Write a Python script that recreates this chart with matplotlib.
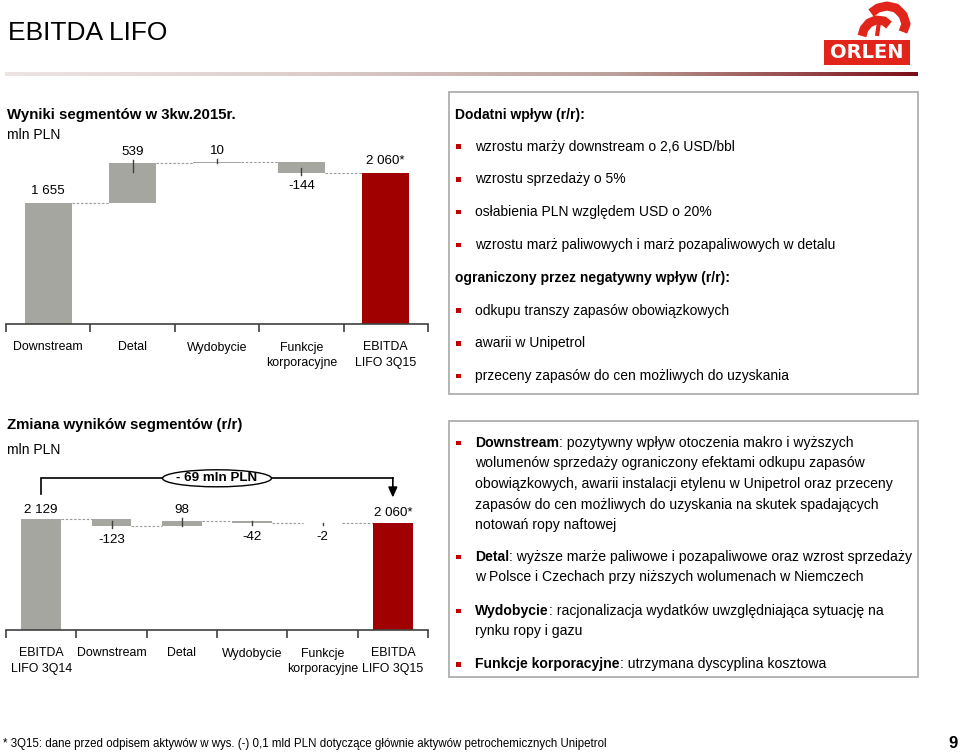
import matplotlib
matplotlib.use("Agg")
import matplotlib.pyplot as plt
from matplotlib.patches import Rectangle, Ellipse
from matplotlib.colors import LinearSegmentedColormap
import numpy as np

# ---------------- data ----------------
top_categories = ['Downstream', 'Detal', 'Wydobycie', 'Funkcje\nkorporacyjne', 'EBITDA\nLIFO 3Q15']
top_values = [1655, 539, 10, -144, 2060]
top_labels = ['1 655', '539', '10', '-144', '2 060*']

bottom_categories = ['EBITDA\nLIFO 3Q14', 'Downstream', 'Detal', 'Wydobycie',
                     'Funkcje\nkorporacyjne', 'EBITDA\nLIFO 3Q15']
bottom_values = [2129, -123, 98, -42, -2, 2060]
bottom_labels = ['2 129', '-123', '98', '-42', '-2', '2 060*']
change_label = '- 69 mln PLN'

title = 'EBITDA LIFO'
top_heading = 'Wyniki segmentów w 3kw.2015r.'
bottom_heading = 'Zmiana wyników segmentów (r/r)'
unit = 'mln PLN'

box1_lines = [
    ('head', 'Dodatni wpływ (r/r):'),
    ('item', 'wzrostu marży downstream o 2,6 USD/bbl'),
    ('item', 'wzrostu sprzedaży o 5%'),
    ('item', 'osłabienia PLN względem USD o 20%'),
    ('item', 'wzrostu marż paliwowych i marż pozapaliwowych w detalu'),
    ('head', 'ograniczony przez negatywny wpływ (r/r):'),
    ('item', 'odkupu transzy zapasów obowiązkowych'),
    ('item', 'awarii w Unipetrol'),
    ('item', 'przeceny zapasów do cen możliwych do uzyskania'),
]

box2_items = [
    ('Downstream', ['pozytywny wpływ otoczenia makro i wyższych',
                    'wolumenów sprzedaży ograniczony efektami odkupu zapasów',
                    'obowiązkowych, awarii instalacji etylenu w Unipetrol oraz przeceny',
                    'zapasów do cen możliwych do uzyskania na skutek spadających',
                    'notowań ropy naftowej']),
    ('Detal', ['wyższe marże paliwowe i pozapaliwowe oraz wzrost sprzedaży',
               'w Polsce i Czechach przy niższych wolumenach w Niemczech']),
    ('Wydobycie', ['racjonalizacja wydatków uwzględniająca sytuację na',
                   'rynku ropy i gazu']),
    ('Funkcje korporacyjne', ['utrzymana dyscyplina kosztowa']),
]

footnote = '* 3Q15: dane przed odpisem aktywów w wys. (-) 0,1 mld PLN dotyczące głównie aktywów petrochemicznych Unipetrol'
page_no = '9'

FONT = 'Liberation Sans'

W, H = 960, 752
fig = plt.figure(figsize=(W / 100, H / 100), dpi=100)
fig.patch.set_facecolor('white')


def fx(x):
    return x / W


def fy(y):
    return 1 - y / H


GRAY = '#a6a6a1'
RED = '#a00000'
BUL = '#c00000'

# ---------------- title + gradient line ----------------
fig.text(fx(8), fy(33), title, fontsize=19, family=FONT, va='center', ha='left')
gax = fig.add_axes([fx(5), fy(76), (918 - 5) / W, 4 / H])
cmap = LinearSegmentedColormap.from_list('g', ['#efe4e4', '#dccdca', '#bca29c', '#7c1018'], N=256)
gax.imshow(np.linspace(0, 1, 400)[None, :], aspect='auto', cmap=cmap)
gax.axis('off')

# ---------------- logo ----------------
fig.patches.append(Rectangle((fx(824), fy(65)), 86 / W, 25 / H, transform=fig.transFigure,
                             facecolor='#e1251b', edgecolor='none'))
fig.text(fx(867), fy(53), 'ORLEN', fontsize=14, family='DejaVu Sans', weight='bold',
         color='white', ha='center', va='center')
lax = fig.add_axes([0, 0, 1, 1], facecolor='none')
lax.set_xlim(0, W)
lax.set_ylim(H, 0)
lax.axis('off')
lax.plot([871, 878, 887, 896, 903, 906, 903], [13, 8, 6, 8, 15, 24, 32], color='#e1251b',
         lw=6.5, solid_capstyle='butt')
lax.plot([862, 864, 869, 876, 884, 889], [36, 29, 23, 20, 21, 25], color='#e1251b',
         lw=6.5, solid_capstyle='butt')
lax.plot([879, 877], [22, 36], color='#e1251b', lw=3, solid_capstyle='butt')

# ---------------- headings ----------------
fig.text(fx(7), fy(115), top_heading, fontsize=10.8, family=FONT, weight='bold', va='center')
fig.text(fx(7), fy(135), unit, fontsize=10, family=FONT, va='center')
fig.text(fx(7), fy(425), bottom_heading, fontsize=10.8, family=FONT, weight='bold', va='center')
fig.text(fx(7), fy(450), unit, fontsize=10, family=FONT, va='center')


# ---------------- waterfall helper ----------------
def waterfall(ax, cats, vals, labels, k, lab_off, cat_off):
    n = len(vals)
    bw = 0.56
    running = 0
    levels = []
    for i, v in enumerate(vals):
        if i == 0 or i == n - 1:
            bottom, height = 0, v
            running = v
            col = RED if i == n - 1 else GRAY
        else:
            bottom = running if v >= 0 else running + v
            height = abs(v)
            running += v
            col = GRAY
        levels.append(running)
        ax.bar(i, height, bottom=bottom, width=bw, color=col, edgecolor='none', zorder=2)
        top = bottom + height
        px = 1.0 / k  # data units per pixel
        if i == 0 or i == n - 1:
            ax.annotate(labels[i], xy=(i, top), xytext=(0, lab_off['tot']), textcoords='offset pixels',
                        ha='center', va='center', fontsize=9.6, family=FONT)
        elif v >= 0:
            ax.plot([i, i], [top + 3 * px, max(bottom, top - 9 * px)], color='#404040', lw=1, zorder=3)
            ax.annotate(labels[i], xy=(i, top), xytext=(0, lab_off['pos']), textcoords='offset pixels',
                        ha='center', va='center', fontsize=9.6, family=FONT)
        else:
            ax.plot([i, i], [min(top, bottom + 5 * px), bottom - 2 * px], color='#404040', lw=1, zorder=3)
            ax.annotate(labels[i], xy=(i, bottom), xytext=(0, -lab_off['neg']), textcoords='offset pixels',
                        ha='center', va='center', fontsize=9.6, family=FONT)
        ax.annotate(cats[i], xy=(i, 0), xytext=(0, -cat_off), textcoords='offset pixels',
                    ha='center', va='top', fontsize=8.9, family=FONT, linespacing=1.35)
    for i in range(n - 1):
        ax.plot([i + bw / 2, i + 1 - bw / 2], [levels[i], levels[i]], color='#9a9a9a', lw=0.8,
                dashes=(2.2, 1.6), zorder=1)
    ax.set_xlim(-0.5, n - 0.5)
    ax.set_xticks(np.arange(-0.5, n, 1.0))
    ax.set_xticklabels([])
    ax.set_yticks([])
    for s in ['top', 'right', 'left']:
        ax.spines[s].set_visible(False)
    ax.spines['bottom'].set_color('#404040')
    ax.spines['bottom'].set_linewidth(1.2)
    ax.tick_params(axis='x', direction='out', length=6, width=1.2, color='#404040')
    ax.set_facecolor('none')


# top chart
k1 = 0.0733
ax1 = fig.add_axes([fx(6), fy(324), (428 - 6) / W, (324 - 140) / H])
ax1.set_ylim(0, (324 - 140) / k1)
waterfall(ax1, top_categories, top_values, top_labels, k1, {'tot': 12, 'pos': 11, 'neg': 13}, 17.5)

# bottom chart
k2 = 0.052
ax2 = fig.add_axes([fx(6), fy(630), (428 - 6) / W, (630 - 460) / H])
ax2.set_ylim(0, (630 - 460) / k2)
waterfall(ax2, bottom_categories, bottom_values, bottom_labels, k2, {'tot': 9.5, 'pos': 10.5, 'neg': 14}, 17.5)

# bracket with change annotation
yb = (630 - 478.3) / k2
yl = (630 - 494.3) / k2
ya = (630 - 497.5) / k2
n2 = len(bottom_values)
ax2.plot([0, 0, n2 - 1], [yl, yb, yb], color='black', lw=1.2, clip_on=False, zorder=4,
         solid_joinstyle='miter')
ax2.annotate('', xy=(n2 - 1, ya), xytext=(n2 - 1, yb + 0.6 / k2),
             arrowprops=dict(arrowstyle='-|>,head_length=0.6,head_width=0.27', lw=1.2, color='black',
                             shrinkA=0, shrinkB=0), annotation_clip=False, zorder=4)
ax2.add_patch(Ellipse((2.5, yb), 109 / 70.4, 17 / k2, facecolor='white', edgecolor='black', lw=1,
                      clip_on=False, zorder=5))
ax2.text(2.5, yb, change_label, ha='center', va='center', fontsize=9.6, family=FONT,
         weight='bold', zorder=6, clip_on=False)

# ---------------- text boxes ----------------
for (x0, y0, x1, y1) in [(449, 92, 918, 394), (449, 421, 918, 677)]:
    fig.patches.append(Rectangle((fx(x0), fy(y1)), (x1 - x0) / W, (y1 - y0) / H,
                                 transform=fig.transFigure, facecolor='none',
                                 edgecolor='#b4b4b4', lw=1.4))


def bullet(x, y):
    fig.patches.append(Rectangle((fx(x - 2.2), fy(y + 2.2)), 4.4 / W, 4.4 / H,
                                 transform=fig.transFigure, facecolor=BUL, edgecolor='none'))


y_top = [115, 146.7, 179.3, 212, 245, 278, 310.7, 343.3, 376]
for (kind, txt), y in zip(box1_lines, y_top):
    if kind == 'head':
        fig.text(fx(455), fy(y), txt, fontsize=10, family=FONT, weight='bold', va='center')
    else:
        bullet(458.5, y)
        fig.text(fx(475), fy(y), txt, fontsize=10, family=FONT, va='center')

renderer = fig.canvas.get_renderer()
y_starts = [442.7, 556.7, 610.7, 664.3]
lh = 20.6
for (bold, lines), y0 in zip(box2_items, y_starts):
    bullet(458.5, y0)
    tb = fig.text(fx(475), fy(y0), bold, fontsize=10.1, family=FONT, weight='bold', va='center')
    wpx = tb.get_window_extent(renderer).width
    fig.text(fx(475 + wpx), fy(y0), ': ' + lines[0], fontsize=10.1, family=FONT, va='center')
    for j, ln in enumerate(lines[1:], start=1):
        fig.text(fx(475), fy(y0 + j * lh), ln, fontsize=10.1, family=FONT, va='center')

# ---------------- footer ----------------
fig.text(fx(3), fy(744), footnote, fontsize=8.3, family=FONT, va='center')
fig.text(fx(953), fy(744), page_no, fontsize=12, family=FONT, weight='bold', va='center', ha='center')

fig.savefig('out.png', dpi=100, facecolor='white')
